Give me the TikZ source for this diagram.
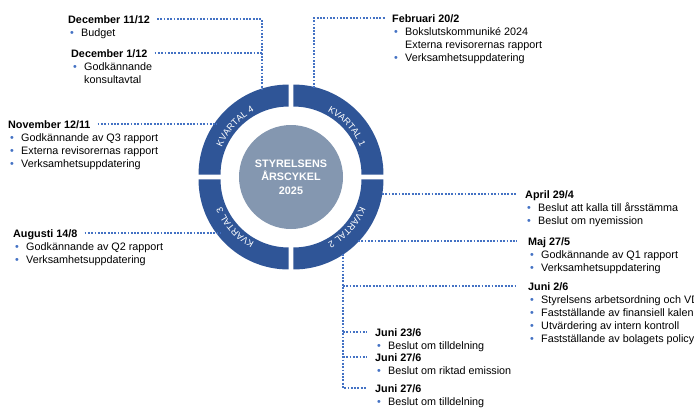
\documentclass[tikz,border=0pt]{standalone}
\usepackage{fontspec}
\setmainfont{Liberation Sans}
\usepackage{xcolor}
\usepackage{tikz}
\usetikzlibrary{positioning,calc,decorations.text}

\definecolor{ringblue}{HTML}{2F5597}
\definecolor{hubgray}{HTML}{8497B0}
\definecolor{dotblue}{HTML}{4472C4}
\newcommand{\itm}[1]{\rule{0pt}{9pt}\hspace*{2pt}\makebox[11pt][l]{\textcolor{dotblue}{\textbullet}}#1}
\newcommand{\cont}[1]{\rule{0pt}{9pt}\hspace*{13pt}#1}
\newcommand{\ringfont}{\fontsize{9.2}{11}\selectfont\color{white}}

\begin{document}
\begin{tikzpicture}[x=1pt, y=1pt,
    head/.style={font=\bfseries\fontsize{10.8}{13}\selectfont, inner sep=0pt, anchor=base west, text height=7.8pt, text depth=0pt},
    items/.style={font=\fontsize{10.8}{13}\selectfont, inner sep=0pt, align=left},
    hub/.style={circle, fill=hubgray, minimum size=104pt, inner sep=0pt, text=white, align=center, font=\bfseries\fontsize{10.8}{13.5}\selectfont},
    seg/.style={fill=ringblue},
    dotline/.style={dotblue, line width=1.8pt, dash pattern=on 1.8pt off 1.5pt}]
    \useasboundingbox (0,0) rectangle (694,-408);
    \clip (0,0) rectangle (694,-408);

    \coordinate (c) at (291,-177);
    \node [hub] (hub) at (c) {\textbf{STYRELSENS}\\\textbf{ÅRSCYKEL}\\\textbf{2025}};

    \begin{scope}[shift={(c)}]
        \fill [seg, shift={(45:3.5)}] (0:68) arc[start angle=0, end angle=90, radius=68] -- (90:90) arc[start angle=90, end angle=0, radius=90] -- cycle;
        \fill [seg, shift={(-45:3.5)}] (-90:68) arc[start angle=-90, end angle=0, radius=68] -- (0:90) arc[start angle=0, end angle=-90, radius=90] -- cycle;
        \fill [seg, shift={(225:3.5)}] (180:68) arc[start angle=180, end angle=270, radius=68] -- (270:90) arc[start angle=270, end angle=180, radius=90] -- cycle;
        \fill [seg, shift={(135:3.5)}] (90:68) arc[start angle=90, end angle=180, radius=68] -- (180:90) arc[start angle=180, end angle=90, radius=90] -- cycle;
        \path [shift={(45:3.5)}, decorate, decoration={text along path, text align=center, text={|\ringfont|KVARTAL 1}}] (72:72) arc[start angle=72, end angle=12, radius=72];
        \path [shift={(-45:3.5)}, decorate, decoration={text along path, text align=center, text={|\ringfont|KVARTAL 2}}] (348:72) arc[start angle=348, end angle=288, radius=72];
        \path [shift={(225:3.5)}, decorate, decoration={text along path, text align=center, text={|\ringfont|KVARTAL 3}}] (252:72) arc[start angle=252, end angle=192, radius=72];
        \path [shift={(135:3.5)}, decorate, decoration={text along path, text align=center, text={|\ringfont|KVARTAL 4}}] (168:72) arc[start angle=168, end angle=108, radius=72];
    \end{scope}

    \node [head] (dec11) at (68,-23) {December 11/12};
    \node [items, below=4pt of dec11.base west, anchor=north west] (dec11i) {\itm{Budget}};
    \node [head] (dec1) at (71,-57) {December 1/12};
    \node [items, below=4pt of dec1.base west, anchor=north west] (dec1i) {\itm{Godkännande}\\ \cont{konsultavtal}};
    \node [head] (feb) at (392,-22) {Februari 20/2};
    \node [items, below=4pt of feb.base west, anchor=north west] (febi) {\itm{Bokslutskommuniké 2024}\\ \cont{Externa revisorernas rapport}\\ \itm{Verksamhetsuppdatering}};
    \node [head] (nov) at (8,-128) {November 12/11};
    \node [items, below=4pt of nov.base west, anchor=north west] (novi) {\itm{Godkännande av Q3 rapport}\\ \itm{Externa revisorernas rapport}\\ \itm{Verksamhetsuppdatering}};
    \node [head] (aug) at (13,-237) {Augusti 14/8};
    \node [items, below=4pt of aug.base west, anchor=north west] (augi) {\itm{Godkännande av Q2 rapport}\\ \itm{Verksamhetsuppdatering}};
    \node [head] (apr) at (525,-198) {April 29/4};
    \node [items, below=4pt of apr.base west, anchor=north west] (apri) {\itm{Beslut att kalla till årsstämma}\\ \itm{Beslut om nyemission}};
    \node [head] (maj) at (528,-245) {Maj 27/5};
    \node [items, below=4pt of maj.base west, anchor=north west] (maji) {\itm{Godkännande av Q1 rapport}\\ \itm{Verksamhetsuppdatering}};
    \node [head] (jun2) at (528,-290) {Juni 2/6};
    \node [items, below=4pt of jun2.base west, anchor=north west] (jun2i) {\itm{Styrelsens arbetsordning och VD}\\ \itm{Fastställande av finansiell kalender}\\ \itm{Utvärdering av intern kontroll}\\ \itm{Fastställande av bolagets policys}};
    \node [head] (jun23) at (375,-336) {Juni 23/6};
    \node [items, below=4pt of jun23.base west, anchor=north west] (jun23i) {\itm{Beslut om tilldelning}};
    \node [head] (jun27a) at (375,-361) {Juni 27/6};
    \node [items, below=4pt of jun27a.base west, anchor=north west] (jun27ai) {\itm{Beslut om riktad emission}};
    \node [head] (jun27b) at (375,-392) {Juni 27/6};
    \node [items, below=4pt of jun27b.base west, anchor=north west] (jun27bi) {\itm{Beslut om tilldelning}};

    \coordinate (k4t) at (262,-90);
    \coordinate (k1t) at (314,-88);
    \coordinate (k4l) at (217,-124);
    \coordinate (k3l) at (221,-233);
    \coordinate (k2a) at (382,-194);
    \coordinate (k2m) at (358,-241);
    \coordinate (k2b) at (343,-254);

    \draw [dotline, shorten <=7pt] (dec11.east) -| (k4t);
    \draw [dotline, shorten <=7pt] (dec1.east) -- (dec1.east -| k4t);
    \draw [dotline, shorten >=7pt] (k1t) |- (feb.west);
    \draw [dotline, shorten <=7pt] (nov.east) -- (nov.east -| k4l);
    \draw [dotline, shorten <=7pt] (aug.east) -- (aug.east -| k3l);
    \draw [dotline, shorten >=8pt] (apr.west -| k2a) -- (apr.west);
    \draw [dotline, shorten >=11pt] (maj.west -| k2m) -- (maj.west);
    \draw [dotline, shorten >=8pt] (k2b) |- (jun27b.west);
    \draw [dotline, shorten >=11pt] (jun2.west -| k2b) -- (jun2.west);
    \draw [dotline, shorten >=8pt] (jun23.west -| k2b) -- (jun23.west);
    \draw [dotline, shorten >=8pt] (jun27a.west -| k2b) -- (jun27a.west);
\end{tikzpicture}
\end{document}
